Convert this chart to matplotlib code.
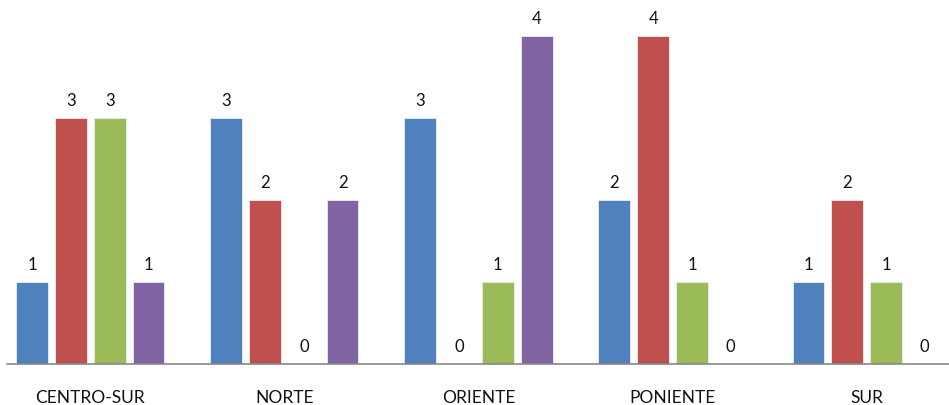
import numpy as np
import matplotlib
matplotlib.use("Agg")
import matplotlib.pyplot as plt

plt.rcParams['font.family'] = ['Lato', 'DejaVu Sans']

categories = ["CENTRO-SUR", "NORTE", "ORIENTE", "PONIENTE", "SUR"]
serie_1 = [1, 3, 3, 2, 1]
serie_2 = [3, 2, 0, 4, 2]
serie_3 = [3, 0, 1, 1, 1]
serie_4 = [1, 2, 4, 0, 0]

series = [serie_1, serie_2, serie_3, serie_4]
colors = ["#4F81BD", "#C0504D", "#9BBB59", "#8064A2"]

fig = plt.figure(figsize=(9.49, 4.06), dpi=100)
ax = fig.add_axes([7 / 949, 41 / 406, 942 / 949, 365 / 406])

x = np.arange(len(categories))
pitch = 0.2
width = 0.163
for i, (vals, col) in enumerate(zip(series, colors)):
    pos = x + (i - 1.5) * pitch
    ax.bar(pos, vals, width=width, color=col, edgecolor="#e8eef6", linewidth=0.6)
    for p, v in zip(pos, vals):
        ax.annotate(str(v), (p, v), xytext=(0, 7), textcoords="offset points",
                    ha="center", va="bottom", fontsize=12, color="#111111")

ax.set_xlim(-0.43, 4.425)
ax.set_ylim(0, 365 / 82)
ax.set_xticks(x)
ax.set_xticklabels(categories, fontsize=12.5, color="#111111")
ax.tick_params(axis="x", length=0, pad=18)
ax.set_yticks([])
for s in ["top", "right", "left"]:
    ax.spines[s].set_visible(False)
ax.spines["bottom"].set_color("#888888")
ax.spines["bottom"].set_linewidth(1.2)

fig.savefig("out.png", dpi=100)
